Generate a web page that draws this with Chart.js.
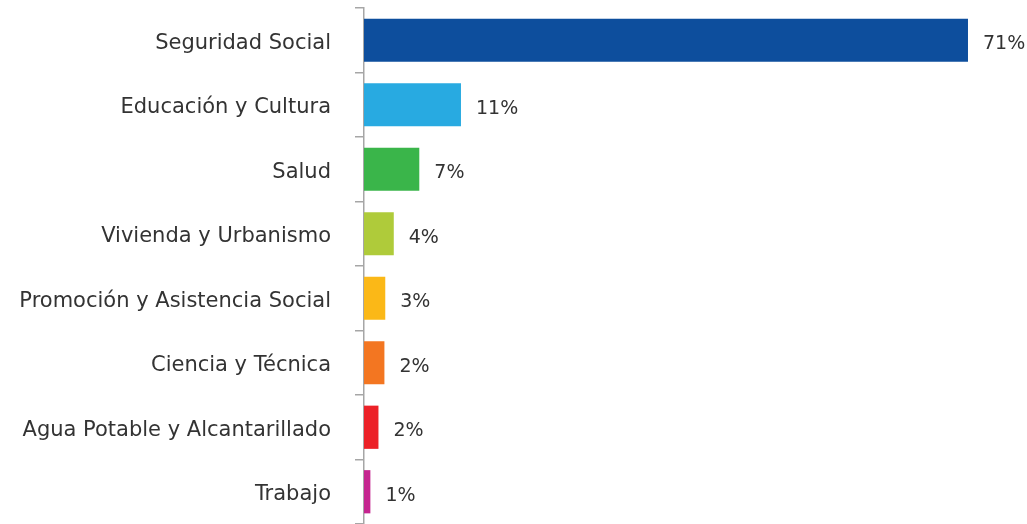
<!DOCTYPE html>
<html>
<head>
<meta charset="utf-8">
<script src="https://cdn.jsdelivr.net/npm/chart.js@4"></script>
<style>
html,body{margin:0;padding:0;background:#fff;}
#wrap{width:1027px;height:524px;position:relative;}
</style>
</head>
<body>
<div id="wrap"><canvas id="c" width="1027" height="524"></canvas></div>
<script>
const categories = ["Seguridad Social","Educación y Cultura","Salud","Vivienda y Urbanismo","Promoción y Asistencia Social","Ciencia y Técnica","Agua Potable y Alcantarillado","Trabajo"];
const values = [71, 11.4, 6.5, 3.5, 2.5, 2.4, 1.7, 0.75];
const valueLabels = ["71%","11%","7%","4%","3%","2%","2%","1%"];
const barColors = ["#0d4e9d","#28aae1","#3ab54a","#afcb3a","#fbb817","#f37621","#ec2127","#c5258f"];

const FONT = "'DejaVu Sans', sans-serif";
const TEXT = "#333333";

const valueLabelPlugin = {
  id: 'valueLabels',
  afterDatasetsDraw(chart) {
    const ctx = chart.ctx;
    const meta = chart.getDatasetMeta(0);
    ctx.save();
    ctx.font = "19px " + FONT;
    ctx.fillStyle = TEXT;
    ctx.textAlign = 'left';
    ctx.textBaseline = 'middle';
    meta.data.forEach((bar, i) => {
      ctx.fillText(valueLabels[i], bar.x + 15, bar.y + 4);
    });
    ctx.restore();
  }
};

new Chart(document.getElementById('c'), {
  type: 'bar',
  data: {
    labels: categories,
    datasets: [{
      data: values,
      backgroundColor: barColors,
      borderWidth: 0,
      barPercentage: 0.67,
      categoryPercentage: 1.0
    }]
  },
  options: {
    indexAxis: 'y',
    responsive: false,
    animation: false,
    layout: { padding: { top: 8, bottom: 0, left: 0, right: 42 } },
    plugins: { legend: { display: false }, tooltip: { enabled: false } },
    scales: {
      x: { display: false, min: 0, max: 73 },
      y: {
        afterFit(scale) { scale.width = 364; scale.paddingTop = 0; scale.paddingBottom = 0; },
        border: { display: true, color: '#a6a6a6', width: 1.5 },
        grid: { drawOnChartArea: false, drawTicks: true, tickLength: 9, color: '#a6a6a6', lineWidth: 1.5, offset: true },
        ticks: { color: TEXT, padding: 24, labelOffset: 3, font: { family: FONT, size: 21 } }
      }
    }
  },
  plugins: [valueLabelPlugin]
});
</script>
</body>
</html>
